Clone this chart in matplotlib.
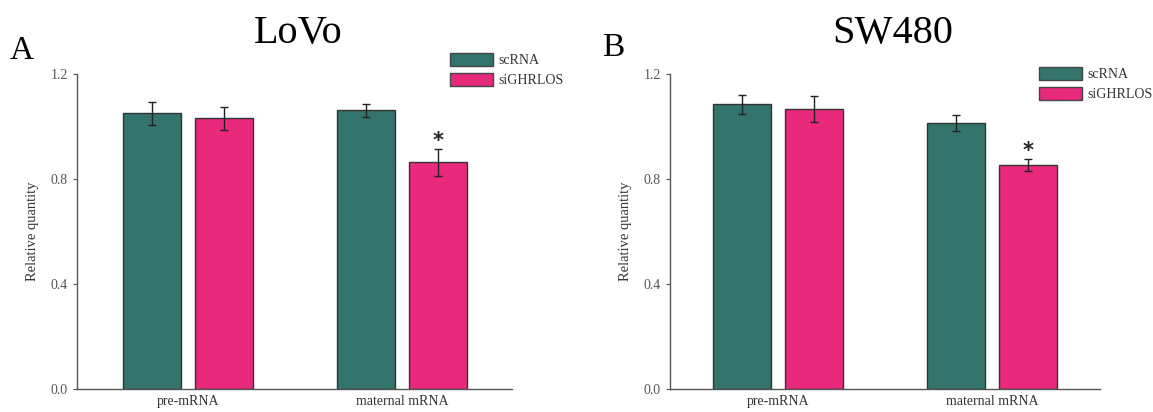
import numpy as np
import matplotlib.pyplot as plt
from matplotlib.patches import Patch

plt.rcParams['font.family'] = ['Liberation Serif', 'DejaVu Serif']

# Data
groups = ['pre-mRNA', 'maternal mRNA']
series = ['scRNA', 'siGHRLOS']
colors = ['#33756d', '#e8297c']

lovo_scrna = [1.050, 1.062]
lovo_scrna_err = [0.043, 0.025]
lovo_si = [1.031, 0.863]
lovo_si_err = [0.044, 0.053]

sw_scrna = [1.085, 1.014]
sw_scrna_err = [0.036, 0.031]
sw_si = [1.067, 0.854]
sw_si_err = [0.051, 0.024]

fig = plt.figure(figsize=(11.53, 4.12), dpi=100)
ax1 = fig.add_axes([77/1153, 23/412, 435/1153, 315/412])
ax2 = fig.add_axes([670/1153, 23/412, 430/1153, 315/412])

x = np.arange(len(groups))
w = 0.271
off = 0.168


def draw(ax, sc, sc_err, si, si_err, xlim, leg_anchor):
    err_kw = dict(elinewidth=1.0, capsize=3, capthick=1.0, ecolor='#222222')
    ax.bar(x - off, sc, w, yerr=sc_err, color=colors[0], edgecolor='#333333',
           linewidth=1.0, error_kw=err_kw)
    ax.bar(x + off, si, w, yerr=si_err, color=colors[1], edgecolor='#333333',
           linewidth=1.0, error_kw=err_kw)
    # significance star on the siGHRLOS maternal bar
    ax.text(x[1] + off, si[1] + si_err[1] + 0.03, '*', ha='center', va='center',
            fontsize=15, fontweight='bold', color='#222222', family='DejaVu Sans')
    ax.set_xlim(*xlim)
    ax.set_ylim(0, 1.2)
    ax.set_yticks([0.0, 0.4, 0.8, 1.2])
    ax.set_yticklabels(['0.0', '0.4', '0.8', '1.2'])
    ax.set_xticks(x)
    ax.set_xticklabels(groups)
    ax.tick_params(axis='x', length=0, pad=4, labelsize=10, labelcolor='#333333')
    ax.tick_params(axis='y', length=3, width=0.8, direction='out', labelsize=10,
                   labelcolor='#555555', color='#555555')
    for s in ['top', 'right']:
        ax.spines[s].set_visible(False)
    for s in ['left', 'bottom']:
        ax.spines[s].set_color('#555555')
        ax.spines[s].set_linewidth(1.0)
    ax.set_ylabel('Relative quantity', fontsize=10.5, color='#333333', labelpad=8)
    handles = [Patch(facecolor=c, edgecolor='#444444', linewidth=1.0) for c in colors]
    ax.legend(handles, series, loc='upper left', bbox_to_anchor=leg_anchor,
              frameon=False, fontsize=10, handlelength=3.1, handleheight=1.1,
              handletextpad=0.4, labelspacing=0.4, borderpad=0, borderaxespad=0,
              labelcolor='#333333')


draw(ax1, lovo_scrna, lovo_scrna_err, lovo_si, lovo_si_err, (-0.519, 1.514), (0.857, 1.067))
draw(ax2, sw_scrna, sw_scrna_err, sw_si, sw_si_err, (-0.505, 1.505), (0.858, 1.022))

fig.text(298/1153, 1 - 34/412, 'LoVo', ha='center', va='center', fontsize=29)
fig.text(893/1153, 1 - 34/412, 'SW480', ha='center', va='center', fontsize=29)
fig.text(10/1153, 1 - 51/412, 'A', ha='left', va='center', fontsize=24)
fig.text(602/1153, 1 - 48/412, 'B', ha='left', va='center', fontsize=24)

fig.savefig('out.png', dpi=100)
